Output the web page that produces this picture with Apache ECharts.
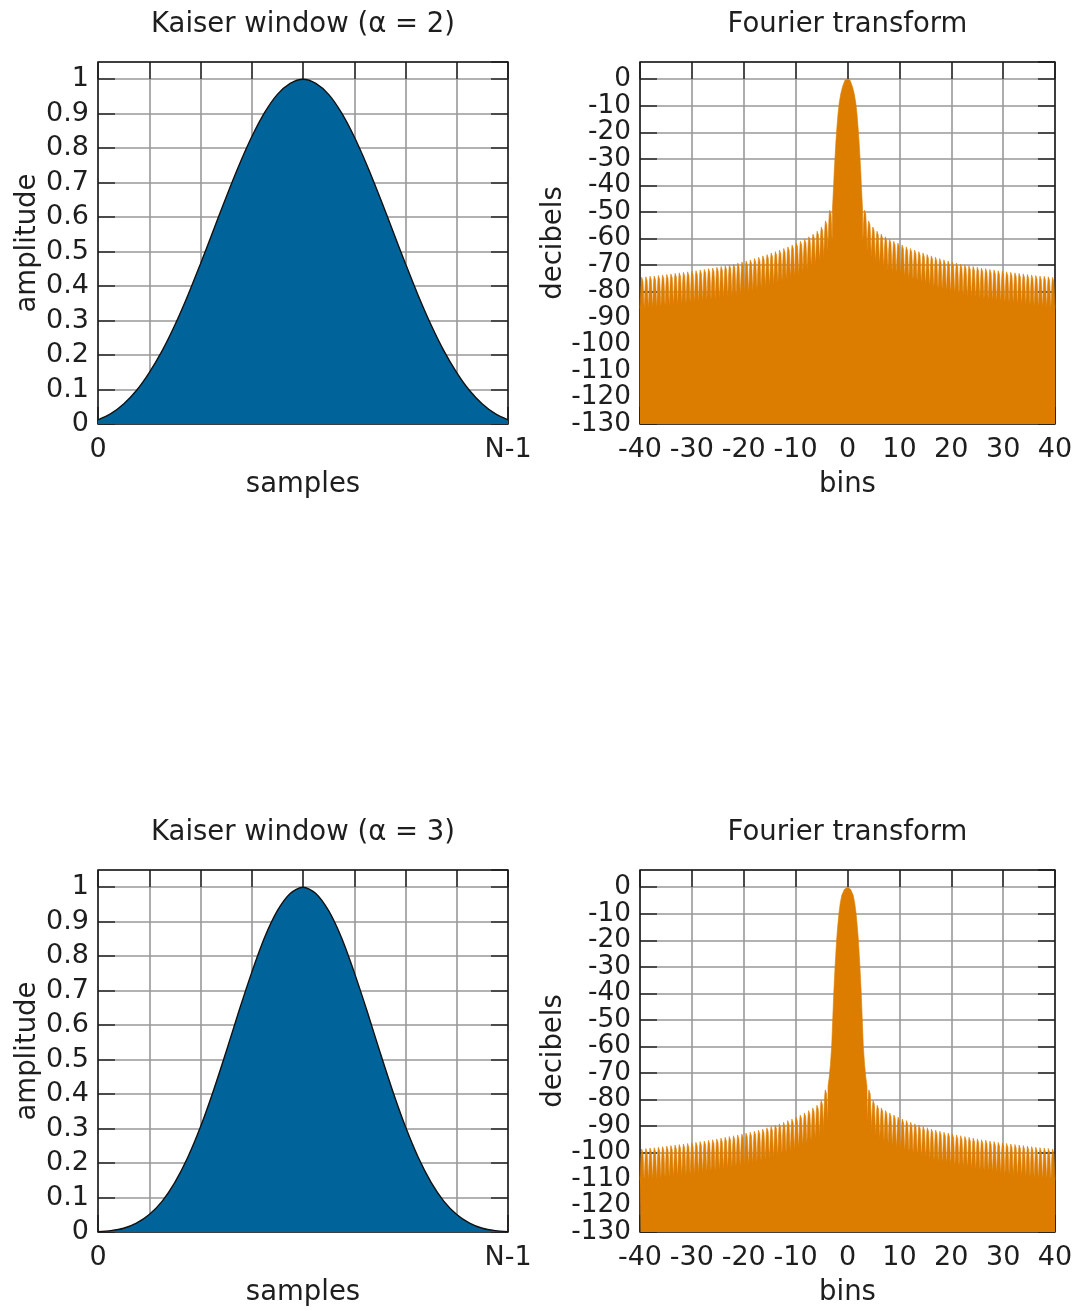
<!DOCTYPE html>
<html>
<head>
<meta charset="utf-8">
<script src="https://cdn.jsdelivr.net/npm/echarts@6/dist/echarts.min.js"></script>
<style>
  html, body { margin: 0; padding: 0; background: #ffffff; }
  #chart { width: 1081px; height: 1311px; }
</style>
</head>
<body>
<div id="chart"></div>
<script>
// ---- Kaiser window: amplitude at 33 evenly spaced sample positions (0 … N-1) ----
const samplePos = [0, 1, 2, 3, 4, 5, 6, 7, 8, 9, 10, 11, 12, 13, 14, 15, 16,
                   17, 18, 19, 20, 21, 22, 23, 24, 25, 26, 27, 28, 29, 30, 31, 32];
const kaiserAlpha2 = [0.012, 0.030, 0.058, 0.097, 0.149, 0.212, 0.287, 0.372, 0.465,
                      0.561, 0.658, 0.750, 0.833, 0.903, 0.956, 0.988, 1.000,
                      0.988, 0.956, 0.903, 0.833, 0.750, 0.658, 0.561, 0.465,
                      0.372, 0.287, 0.212, 0.149, 0.097, 0.058, 0.030, 0.012];
const kaiserAlpha3 = [0.001, 0.004, 0.011, 0.026, 0.051, 0.089, 0.144, 0.216, 0.305,
                      0.409, 0.523, 0.641, 0.753, 0.854, 0.932, 0.982, 1.000,
                      0.982, 0.932, 0.854, 0.753, 0.641, 0.523, 0.409, 0.305,
                      0.216, 0.144, 0.089, 0.051, 0.026, 0.011, 0.004, 0.001];
const sampleTickLabels = { 0: '0', 32: 'N-1' };

// ---- Fourier transform (dB), right half; the left half is its mirror image ----
// main lobe outline
const mainLobeBins2 = [0, 0.5, 0.96, 1.3, 1.6, 1.85, 2.08, 2.25, 2.4, 2.55, 2.66, 2.8, 2.9];
const mainLobeDb2   = [0, -0.4, -2.8, -5.5, -9, -13.5, -19.2, -24, -29.2, -34.5, -39.3, -45, -49];
const mainLobeBins3 = [0, 0.6, 1.1, 1.4, 1.66, 1.9, 2.1, 2.4, 2.65, 2.85, 3.05, 3.3, 3.55, 3.75];
const mainLobeDb3   = [0, -0.8, -3, -6, -10, -15, -20, -30, -40, -50, -60, -67, -72, -75];
// side lobes: equally spaced from the first null out to bin 40, peak level of each
const sideLobeStart2 = 2.95;
const sideLobePeaks2 = [-49, -53, -55.3, -56.9, -58.0, -59.0, -59.9, -60.7, -61.4, -62.1,
                        -62.8, -63.4, -64.0, -64.6, -65.1, -65.7, -66.2, -66.7, -67.2, -67.7,
                        -68.1, -68.5, -68.9, -69.3, -69.6, -69.9, -70.2, -70.5, -70.8, -71.0,
                        -71.3, -71.5, -71.8, -72.0, -72.2, -72.4, -72.6, -72.8, -73.0, -73.2,
                        -73.4, -73.6, -73.8, -73.9, -74.1, -74.3];
const sideLobeStart3 = 3.8;
const sideLobePeaks3 = [-76, -80, -81.8, -82.8, -83.8, -84.7, -85.5, -86.3, -87.0, -87.6,
                        -88.2, -88.8, -89.3, -89.8, -90.3, -90.8, -91.2, -91.6, -92.0, -92.3,
                        -92.7, -93.0, -93.3, -93.6, -93.9, -94.2, -94.5, -94.8, -95.0, -95.3,
                        -95.5, -95.8, -96.0, -96.2, -96.4, -96.6, -96.8, -97.0, -97.2, -97.4,
                        -97.6, -97.8, -97.9, -98.1, -98.3];
// outline of one side lobe: [fraction of lobe width, dB relative to its peak]
const lobeProfile = [[0, -12], [0.07, -10], [0.12, -8], [0.2, -4.6], [0.3, -1.8], [0.4, -0.4],
                     [0.5, 0], [0.6, -0.4], [0.7, -1.8], [0.8, -4.6], [0.88, -8], [0.93, -10], [1, -12]];
const binRange = [-40, 40];
const dbRange = [-130, 6.5];

function spectrumPoints(mainBins, mainDb, lobeStart, lobePeaks) {
  const right = mainBins.map((b, i) => [b, mainDb[i]]);
  const w = (binRange[1] - lobeStart) / lobePeaks.length;
  lobePeaks.forEach((peak, i) => {
    const x0 = lobeStart + i * w;
    lobeProfile.forEach(([f, d]) => right.push([x0 + f * w, peak + d]));
  });
  const left = right.filter(p => p[0] > 0).map(([x, y]) => [-x, y]).reverse();
  return left.concat(right);
}

const FONT = 'DejaVu Sans';
const TXT = '#1e1e1e';
const FS_TICK = 27;
const FS_TICK_DB = 26.3;   // decibel labels sit only 26.5 px apart
const FS_TEXT = 27.5;
const BLUE = '#00639a';
const ORANGE = '#dd7d00';

const tickStyle = () => ({ show: true, inside: true, length: 17, lineStyle: { color: '#2a2a2a', width: 1.5 } });
const gridLine = () => ({ show: true, lineStyle: { color: '#999999', width: 1.6 } });
const tickFont = (size) => ({ fontFamily: FONT, fontSize: size, color: TXT });
const nameFont = () => ({ fontFamily: FONT, fontSize: FS_TEXT, color: TXT });

const panels = [
  { left: 98,  top: 62,  width: 410, kind: 'window', data: kaiserAlpha2, title: 'Kaiser window (α = 2)' },
  { left: 640, top: 62,  width: 415, kind: 'spectrum',
    data: spectrumPoints(mainLobeBins2, mainLobeDb2, sideLobeStart2, sideLobePeaks2), title: 'Fourier transform' },
  { left: 98,  top: 870, width: 410, kind: 'window', data: kaiserAlpha3, title: 'Kaiser window (α = 3)' },
  { left: 640, top: 870, width: 415, kind: 'spectrum',
    data: spectrumPoints(mainLobeBins3, mainLobeDb3, sideLobeStart3, sideLobePeaks3), title: 'Fourier transform' }
];
const PANEL_H = 362;

const grid = [], xAxis = [], yAxis = [], series = [], graphic = [];
panels.forEach((p, g) => {
  grid.push({ left: p.left, top: p.top, width: p.width, height: PANEL_H, show: true,
              borderColor: '#1a1a1a', borderWidth: 1.5, backgroundColor: 'rgba(0,0,0,0)', z: 3 });
  const isWin = p.kind === 'window';
  const xr = () => (isWin ? { min: 0, max: 32, interval: 4 } : { min: binRange[0], max: binRange[1], interval: 10 });
  const yr = () => (isWin ? { min: 0, max: 1.05, interval: 0.1 } : { min: dbRange[0], max: dbRange[1], interval: 10 });

  // bottom axis: labels, ticks, vertical grid lines
  xAxis.push(Object.assign({
    gridIndex: g, type: 'value', position: 'bottom',
    axisLine: { show: false, onZero: false }, axisTick: tickStyle(), splitLine: gridLine(),
    axisLabel: Object.assign({ margin: 12, showMinLabel: true, showMaxLabel: true, hideOverlap: false,
      formatter: isWin ? (v => sampleTickLabels[v] || '') : (v => String(v)) }, tickFont(FS_TICK)),
    name: isWin ? 'samples' : 'bins', nameLocation: 'middle', nameGap: 47,
    nameTextStyle: nameFont()
  }, xr()));
  // mirrored ticks along the top edge
  xAxis.push(Object.assign({
    gridIndex: g, type: 'value', position: 'top',
    axisLine: { show: false, onZero: false }, axisTick: tickStyle(),
    splitLine: { show: false }, axisLabel: { show: false }
  }, xr()));

  // left axis: labels, ticks, horizontal grid lines
  yAxis.push(Object.assign({
    gridIndex: g, type: 'value', position: 'left',
    axisLine: { show: false, onZero: false }, axisTick: tickStyle(), splitLine: gridLine(),
    axisLabel: Object.assign({ margin: 9, showMinLabel: true, showMaxLabel: false, hideOverlap: false },
      tickFont(isWin ? FS_TICK : FS_TICK_DB)),
    name: isWin ? 'amplitude' : 'decibels', nameLocation: 'middle', nameRotate: 90,
    nameGap: isWin ? 55 : 65, nameTextStyle: nameFont()
  }, yr()));
  // mirrored ticks along the right edge
  yAxis.push(Object.assign({
    gridIndex: g, type: 'value', position: 'right',
    axisLine: { show: false, onZero: false }, axisTick: tickStyle(),
    splitLine: { show: false }, axisLabel: { show: false }
  }, yr()));

  if (isWin) {
    series.push({
      type: 'line', xAxisIndex: 2 * g, yAxisIndex: 2 * g,
      data: samplePos.map((s, i) => [s, p.data[i]]),
      smooth: 0.3, showSymbol: false, silent: true,
      lineStyle: { color: '#111111', width: 1.4 },
      areaStyle: { color: BLUE, opacity: 1, origin: 'start' }
    });
  } else {
    series.push({
      type: 'line', xAxisIndex: 2 * g, yAxisIndex: 2 * g,
      data: p.data, showSymbol: false, silent: true,
      lineStyle: { color: ORANGE, width: 0.6 },
      areaStyle: { color: ORANGE, opacity: 1, origin: 'start' }
    });
  }

  graphic.push({
    type: 'text', x: p.left + p.width / 2, y: p.top - 37, silent: true,
    style: { text: p.title, fill: TXT, font: FS_TEXT + 'px "' + FONT + '"',
             textAlign: 'center', textVerticalAlign: 'middle' }
  });
});

const chart = echarts.init(document.getElementById('chart'), null, { renderer: 'canvas' });
chart.setOption({
  animation: false,
  backgroundColor: '#ffffff',
  grid, xAxis, yAxis, series, graphic
});
</script>
</body>
</html>
